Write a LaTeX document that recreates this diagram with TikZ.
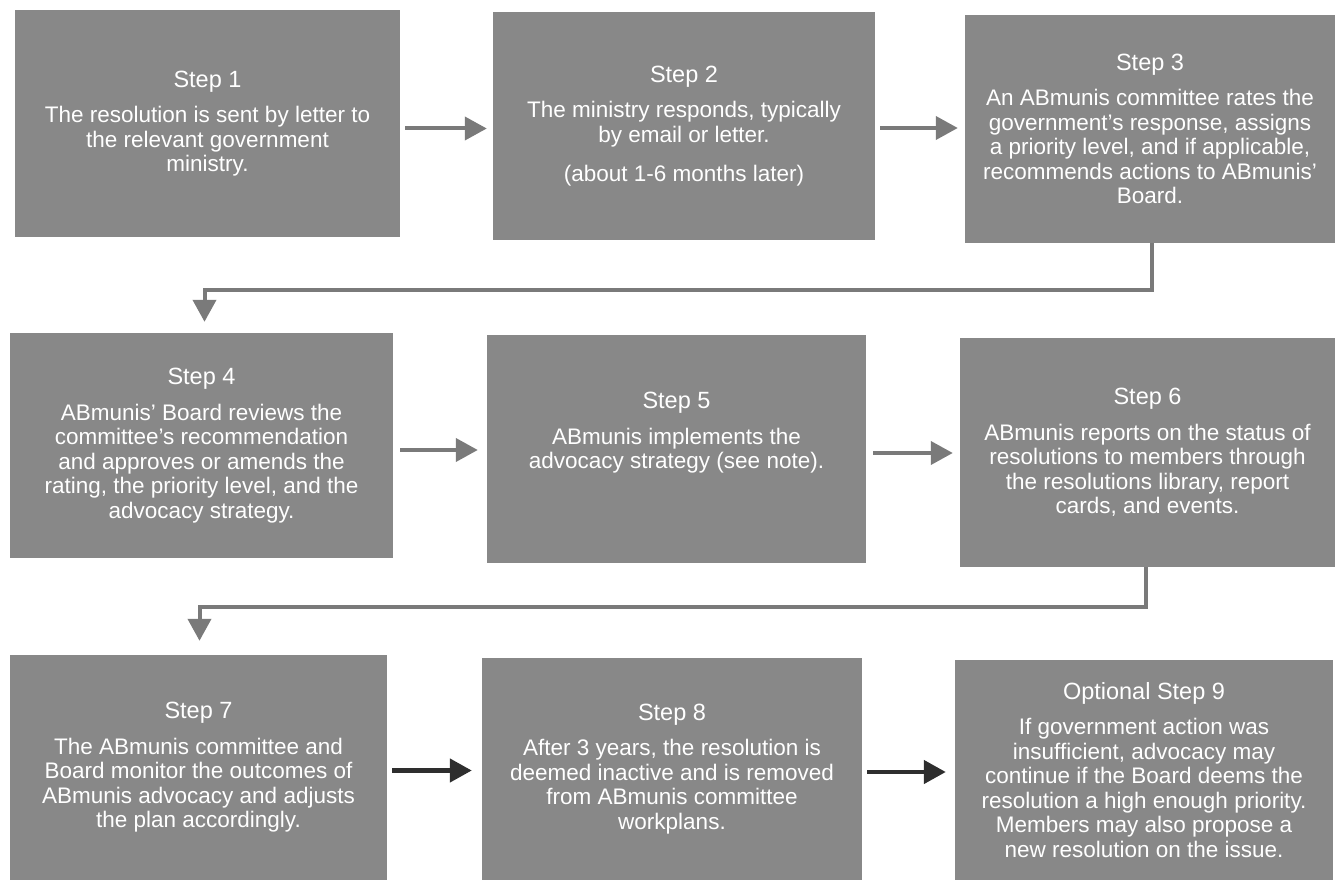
\documentclass[tikz,border=0pt]{standalone}
\usepackage{fontspec}
\setmainfont{Liberation Sans}
\usetikzlibrary{arrows.meta}
\definecolor{boxgrey}{HTML}{888888}
\definecolor{arrgrey}{HTML}{7A7A7A}
\definecolor{arrdark}{HTML}{2E2E2E}
\tikzset{
  stepbox/.style={fill=boxgrey, draw=none, text=white, align=center, inner sep=0pt,
    font=\fontsize{22.5}{24.5}\selectfont},
  steptext/.style={text=white, align=center, inner sep=0pt,
    font=\fontsize{22.5}{24.5}\selectfont},
  arr/.style={draw=arrgrey, line width=4pt, -{Triangle[width=23pt,length=22pt]}},
  arrdk/.style={draw=arrdark, line width=4.5pt, -{Triangle[width=23pt,length=22pt]}},
}
\newcommand{\ttl}[1]{{\fontsize{23.5}{25}\selectfont #1}\\[11pt]}
\begin{document}
\begin{tikzpicture}[x=1pt,y=-1pt]
\useasboundingbox (0,0) rectangle (1343,882);
% row 1
\node[stepbox, minimum width=385, minimum height=227] (b1) at (207.5,123.5)
 {\ttl{Step 1}The resolution is sent by letter to\\the relevant government\\ministry.};
\node[stepbox, minimum width=382, minimum height=228] (b2) at (684,126)
 {\ttl{Step 2}The ministry responds, typically\\by email or letter.\\[15pt](about 1-6 months later)};
\node[stepbox, minimum width=370, minimum height=228] (b3) at (1150,129)
 {\ttl{Step 3}An ABmunis committee rates the\\government's response, assigns\\a priority level, and if applicable,\\recommends actions to ABmunis'\\Board.};
% row 2
\node[stepbox, minimum width=383, minimum height=225] (b4) at (201.5,445.5)
 {\ttl{Step 4}ABmunis' Board reviews the\\committee's recommendation\\and approves or amends the\\rating, the priority level, and the\\advocacy strategy.};
\node[stepbox, minimum width=379, minimum height=228] (b5) at (676.5,449) {};
\node[steptext] (t5) at ([yshift=16pt]b5.center)
 {\ttl{Step 5}ABmunis implements the\\advocacy strategy (see note).};
\node[stepbox, minimum width=375, minimum height=229] (b6) at (1147.5,452.5)
 {\ttl{Step 6}ABmunis reports on the status of\\resolutions to members through\\the resolutions library, report\\cards, and events.};
% row 3
\node[stepbox, minimum width=377, minimum height=225] (b7) at (198.5,767.5)
 {\ttl{Step 7}The ABmunis committee and\\Board monitor the outcomes of\\ABmunis advocacy and adjusts\\the plan accordingly.};
\node[stepbox, minimum width=380, minimum height=222] (b8) at (672,769)
 {\ttl{Step 8}After 3 years, the resolution is\\deemed inactive and is removed\\from ABmunis committee\\workplans.};
\node[stepbox, minimum width=378, minimum height=220] (b9) at (1144,770)
 {\ttl{Optional Step 9}If government action was\\insufficient, advocacy may\\continue if the Board deems the\\resolution a high enough priority.\\Members may also propose a\\new resolution on the issue.};
% arrow start points
\coordinate (s1) at ([xshift=5pt,yshift=-5pt]b1.east);
\coordinate (s2) at ([xshift=5pt,yshift=-2pt]b2.east);
\coordinate (s4) at ([xshift=7pt,yshift=-4.5pt]b4.east);
\coordinate (s5) at ([xshift=7pt,yshift=-4pt]b5.east);
\coordinate (s7) at ([xshift=5pt,yshift=-3pt]b7.east);
\coordinate (s8) at ([xshift=5pt,yshift=-3pt]b8.east);
% horizontal arrows
\draw[arr] (s1) -- ([xshift=-6pt]b2.west |- s1);
\draw[arr] (s2) -- ([xshift=-7pt]b3.west |- s2);
\draw[arr] (s4) -- ([xshift=-9pt]b5.west |- s4);
\draw[arr] (s5) -- ([xshift=-7pt]b6.west |- s5);
\draw[arrdk] (s7) -- ([xshift=-10pt]b8.west |- s7);
\draw[arrdk] (s8) -- ([xshift=-9pt]b9.west |- s8);
% elbow connectors
\coordinate (c3) at ([xshift=2pt]b3.south);
\coordinate (c6) at ([xshift=-2pt]b6.south);
\draw[arr] (c3) -- ++(0,47) -| ([xshift=3pt,yshift=11pt]b4.north);
\draw[arr] (c6) -- ++(0,40) -| ([xshift=1pt,yshift=14pt]b7.north);
\end{tikzpicture}
\end{document}
